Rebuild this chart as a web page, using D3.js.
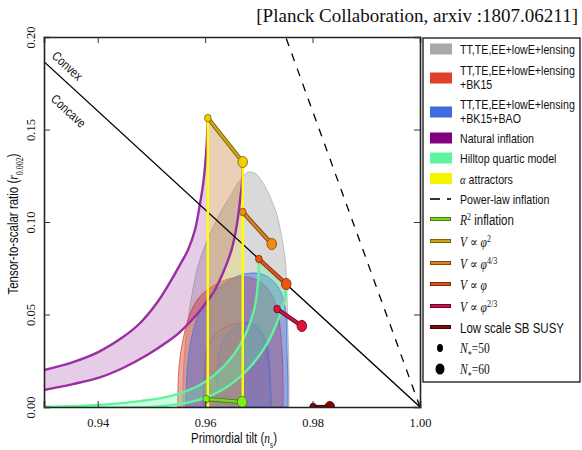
<!DOCTYPE html>
<html><head><meta charset="utf-8">
<script src="https://cdn.jsdelivr.net/npm/d3@7"></script>
<style>
body{margin:0;background:#fff;}
svg{display:block;}
</style></head><body>
<svg id="chart" width="582" height="450"></svg>
<script>
// ---- tick values ----
const nsTicks = [0.94, 0.96, 0.98, 1.00];
const rTicks = [0.00, 0.05, 0.10, 0.15, 0.20];

// ---- Planck constraints in the (n_s, r) plane ----
const planck95 = [[0.9559,0],[0.9559,0.0146],[0.9562,0.0308],[0.9568,0.0470],[0.9577,0.0632],[0.9590,0.0795],[0.9615,0.0973],[0.9631,0.1065],[0.9646,0.1135],[0.9665,0.1227],[0.9680,0.1270],[0.9695,0.1259],[0.9710,0.1200],[0.9721,0.1135],[0.9732,0.1054],[0.9739,0.0973],[0.9749,0.0795],[0.9752,0.0632],[0.9754,0.0416],[0.9756,0.0200],[0.9756,0]];
const bk15Outer = [[0.9549,0],[0.9551,0.0200],[0.9557,0.0335],[0.9568,0.0470],[0.9585,0.0578],[0.9609,0.0643],[0.9637,0.0686],[0.9665,0.0703],[0.9687,0.0697],[0.9706,0.0670],[0.9721,0.0622],[0.9732,0.0551],[0.9739,0.0443],[0.9743,0.0308],[0.9745,0.0146],[0.9745,0]];
const bk15Inner = [[0.9596,0],[0.9598,0.0146],[0.9603,0.0308],[0.9618,0.0389],[0.9643,0.0438],[0.9670,0.0454],[0.9693,0.0432],[0.9710,0.0362],[0.9717,0.0254],[0.9721,0.0119],[0.9723,0]];
const baoOuter = [[0.9564,0],[0.9566,0.0173],[0.9572,0.0335],[0.9585,0.0481],[0.9605,0.0589],[0.9631,0.0659],[0.9661,0.0708],[0.9687,0.0724],[0.9710,0.0714],[0.9730,0.0670],[0.9743,0.0605],[0.9751,0.0497],[0.9752,0.0335],[0.9754,0.0146],[0.9754,0]];
const baoInner = [[0.9620,0],[0.9622,0.0146],[0.9626,0.0281],[0.9637,0.0373],[0.9656,0.0432],[0.9674,0.0459],[0.9693,0.0443],[0.9708,0.0389],[0.9717,0.0308],[0.9721,0.0173],[0.9723,0]];

// ---- model predictions ----
const naturalN50 = [[0.9300,0.0200],[0.9354,0.0243],[0.9401,0.0297],[0.9447,0.0378],[0.9479,0.0454],[0.9510,0.0562],[0.9535,0.0676],[0.9553,0.0768],[0.9568,0.0849],[0.9581,0.0957],[0.9590,0.1092],[0.9596,0.1200],[0.9600,0.1308],[0.9603,0.1427],[0.9605,0.1562]];
const naturalN60 = [[0.9300,0.0092],[0.9354,0.0124],[0.9401,0.0157],[0.9447,0.0211],[0.9492,0.0281],[0.9529,0.0351],[0.9553,0.0405],[0.9590,0.0519],[0.9618,0.0632],[0.9637,0.0751],[0.9650,0.0859],[0.9659,0.0984],[0.9665,0.1119],[0.9669,0.1227],[0.9670,0.1324]];
const hilltopN50 = [[0.9300,0],[0.9404,0.0011],[0.9479,0.0032],[0.9535,0.0059],[0.9590,0.0119],[0.9637,0.0227],[0.9670,0.0362],[0.9691,0.0524],[0.9698,0.0659],[0.9700,0.0800]];
const hilltopN60 = [[0.9300,0],[0.9497,0],[0.9553,0.0016],[0.9600,0.0049],[0.9646,0.0119],[0.9687,0.0227],[0.9717,0.0351],[0.9737,0.0481],[0.9749,0.0589],[0.9751,0.0665]];

// single-field models: N*=50 and N*=60 predictions
const modelKeys = ["R2", "phi2", "phi43", "phi1", "phi23", "susy"];
const modelNs50 = [0.9602, 0.9605, 0.9670, 0.9700, 0.9734, 0.9801];
const modelR50  = [0.0043, 0.1562, 0.1054, 0.0800, 0.0530, 0.0000];
const modelNs60 = [0.9669, 0.9670, 0.9724, 0.9751, 0.9780, 0.9832];
const modelR60  = [0.0027, 0.1324, 0.0881, 0.0665, 0.0438, 0.0000];

// straight reference lines
const dividerNs = [0.93, 1.00], dividerR = [0.1867, 0.0];
const powerLawNs = [1.00, 0.975], powerLawR = [0.0, 0.20];

// ---- drawing ----
const svg = d3.select("#chart");
const x = d3.scaleLinear().domain([0.93, 1.00]).range([44, 420]);
const y = d3.scaleLinear().domain([0, 0.20]).range([407, 37]);

const SANS = "'Liberation Sans',Arial,sans-serif";
const SERIF = "'Liberation Serif','DejaVu Serif',serif";
const NARROW = 0.82;   // horizontal squeeze for the condensed sans labels

svg.append("defs").append("clipPath").attr("id", "plotClip")
  .append("rect").attr("x", 44).attr("y", 37).attr("width", 376).attr("height", 370);

const plot = svg.append("g").attr("clip-path", "url(#plotClip)");
const line = d3.line().x(d => x(d[0])).y(d => y(d[1]));
const smooth = d3.line().x(d => x(d[0])).y(d => y(d[1])).curve(d3.curveCatmullRom.alpha(0.5));

// data contours
function contour(pts, fill, stroke, op) {
  plot.append("path").attr("d", smooth(pts) + "Z")
    .attr("fill", fill).attr("fill-opacity", op)
    .attr("stroke", stroke).attr("stroke-width", 0.9);
}
contour(planck95, "#c4c4c4", "#b8b8b8", 0.65);
contour(bk15Outer, "#e0402a", "#d8574a", 0.45);
contour(bk15Inner, "#e0402a", "#d8574a", 0.15);
contour(baoOuter, "#4169e1", "#4a78e6", 0.45);
contour(baoInner, "#4169e1", "#4a78e6", 0.15);

// natural inflation band
plot.append("path").attr("d", smooth(naturalN50) + "L" + smooth(naturalN60.slice().reverse()).slice(1) + "Z")
  .attr("fill", "#800080").attr("fill-opacity", 0.2).attr("stroke", "none");

// alpha-attractor band between the N*=50 and N*=60 verticals
const iPhi2 = modelKeys.indexOf("phi2");
const alphaBand = [[modelNs50[iPhi2], modelR50[iPhi2]], [modelNs60[iPhi2], modelR60[iPhi2]], [modelNs60[iPhi2], 0], [modelNs50[iPhi2], 0]];
plot.append("path").attr("d", line(alphaBand) + "Z")
  .attr("fill", "#ffe000").attr("fill-opacity", 0.2);

// hilltop band
plot.append("path").attr("d", smooth(hilltopN50) + "L" + smooth(hilltopN60.slice().reverse()).slice(1) + "Z")
  .attr("fill", "#5ef5a0").attr("fill-opacity", 0.3);

// band edges
[naturalN50, naturalN60].forEach(c => plot.append("path").attr("d", smooth(c))
  .attr("fill", "none").attr("stroke", "#9a2ea3").attr("stroke-width", 2.4));
[hilltopN50, hilltopN60].forEach(c => plot.append("path").attr("d", smooth(c))
  .attr("fill", "none").attr("stroke", "#5ef59e").attr("stroke-width", 2.4));

// convex / concave divider
plot.append("path").attr("d", line(d3.zip(dividerNs, dividerR)))
  .attr("stroke", "#000").attr("stroke-width", 1.3).attr("fill", "none");
// power-law inflation
plot.append("path").attr("d", line(d3.zip(powerLawNs, powerLawR)))
  .attr("stroke", "#000").attr("stroke-width", 1.3).attr("fill", "none")
  .attr("stroke-dasharray", "8,8");

// alpha-attractor verticals
[0, 1].forEach(k => {
  const ns = k ? modelNs60[iPhi2] : modelNs50[iPhi2];
  const rt = k ? modelR60[iPhi2] : modelR50[iPhi2];
  plot.append("line").attr("x1", x(ns)).attr("x2", x(ns)).attr("y1", y(rt)).attr("y2", y(0))
    .attr("stroke", "#ffff00").attr("stroke-width", 2.4);
});

// model segments and markers
const segColor  = {R2: "#7ed321", phi2: "#c9a417", phi43: "#d9822b", phi1: "#d9541e", phi23: "#c8174a", susy: "#7a0c0c"};
const segEdge   = {R2: "#3d7a10", phi2: "#7a6200", phi43: "#7a4300", phi1: "#7a2a00", phi23: "#6e0020", susy: "#3d0000"};
const dotColor  = {R2: "#7ef01a", phi2: "#f5cc00", phi43: "#f28c0f", phi1: "#f0540c", phi23: "#dc143c", susy: "#8b0000"};

modelKeys.forEach((k, i) => {
  const p50 = [modelNs50[i], modelR50[i]], p60 = [modelNs60[i], modelR60[i]];
  plot.append("path").attr("d", line([p50, p60])).attr("stroke", segEdge[k]).attr("stroke-width", 4.2).attr("fill", "none");
  plot.append("path").attr("d", line([p50, p60])).attr("stroke", segColor[k]).attr("stroke-width", 2.4).attr("fill", "none");
  plot.append("ellipse").attr("cx", x(p50[0])).attr("cy", y(p50[1])).attr("rx", 3.3).attr("ry", 3.8)
    .attr("fill", dotColor[k]).attr("stroke", segEdge[k]).attr("stroke-width", 0.8);
  plot.append("ellipse").attr("cx", x(p60[0])).attr("cy", y(p60[1])).attr("rx", 4.8).attr("ry", 5.6)
    .attr("fill", dotColor[k]).attr("stroke", segEdge[k]).attr("stroke-width", 0.8);
});

// rich text helper: parts of [text, family, italic, shift]
function rich(sel, parts, size) {
  parts.forEach(([t, fam, it, sh]) => {
    const ts = sel.append("tspan").text(t).attr("font-family", fam === "serif" ? SERIF : SANS)
      .attr("font-size", sh ? size * 0.7 : size);
    if (it) ts.attr("font-style", "italic");
    if (sh) ts.attr("baseline-shift", sh);
  });
  return sel;
}
// text placed at (tx,ty), optionally rotated, squeezed horizontally
function label(parent, tx, ty, rot, parts, size, anchor) {
  const t = parent.append("text")
    .attr("transform", `translate(${tx},${ty}) rotate(${rot}) scale(${NARROW},1)`)
    .attr("text-anchor", anchor || "start").attr("fill", "#111");
  return rich(t, parts, size);
}

// region labels along the divider
const ang = Math.atan2(y(dividerR[1]) - y(dividerR[0]), x(dividerNs[1]) - x(dividerNs[0])) * 180 / Math.PI;
label(svg, 51, 57, ang, [["Convex", "sans"]], 13);
label(svg, 50, 100, ang, [["Concave", "sans"]], 13);

// ---- axes ----
const gx = svg.append("g").attr("transform", "translate(0,407)")
  .call(d3.axisBottom(x).tickValues(nsTicks).tickSize(-6).tickPadding(11).tickFormat(d3.format(".2f")));
svg.append("g").attr("transform", "translate(0,37)")
  .call(d3.axisTop(x).tickValues(nsTicks).tickSize(-6).tickFormat(""));
const gy = svg.append("g").attr("transform", "translate(44,0)")
  .call(d3.axisLeft(y).tickValues(rTicks).tickSize(-6).tickFormat(d3.format(".2f")));
svg.append("g").attr("transform", "translate(420,0)")
  .call(d3.axisRight(y).tickValues(rTicks).tickSize(-6).tickFormat(""));
svg.selectAll(".domain").attr("stroke", "#222").attr("stroke-width", 1.6);
svg.selectAll(".tick line").attr("stroke", "#333").attr("stroke-width", 1);
gx.selectAll("text").attr("font-family", SERIF).attr("font-size", 12.5).attr("fill", "#111");
gy.selectAll("text").attr("font-family", SERIF).attr("font-size", 12.5).attr("fill", "#111")
  .attr("x", null).attr("dy", null).attr("text-anchor", "middle")
  .attr("transform", "translate(-13,0) rotate(-90)").attr("y", 0).attr("dominant-baseline", "central");

// axis titles
label(svg, 234, 443, 0, [["Primordial tilt (", "sans"], ["n", "serif", true], ["s", "serif", false, "sub"], [")", "sans"]], 14, "middle");
label(svg, 18, 224, -90, [["Tensor-to-scalar ratio (", "sans"], ["r", "serif", true], ["0.002", "serif", false, "sub"], [")", "sans"]], 14, "middle");

// header
svg.append("text").attr("x", 578).attr("y", 22).attr("text-anchor", "end")
  .attr("font-family", SERIF).attr("font-size", 19).attr("fill", "#111")
  .text("[Planck Collaboration, arxiv :1807.06211]");

// ---- legend ----
const LGS = 13;
const lg = svg.append("g");
lg.append("rect").attr("x", 423).attr("y", 38).attr("width", 157).attr("height", 344)
  .attr("fill", "#fff").attr("stroke", "#111").attr("stroke-width", 1.3);

const patchItems = [
  {c: "#a9a9a9", y: 49, lines: [[["TT,TE,EE+lowE+lensing", "sans"]]]},
  {c: "#e0402a", y: 78, lines: [[["TT,TE,EE+lowE+lensing", "sans"]], [["+BK15", "sans"]]]},
  {c: "#4169e1", y: 112, lines: [[["TT,TE,EE+lowE+lensing", "sans"]], [["+BK15+BAO", "sans"]]]},
  {c: "#800080", y: 138, lines: [[["Natural inflation", "sans"]]]},
  {c: "#5ef5a0", y: 158, lines: [[["Hilltop quartic model", "sans"]]]},
  {c: "#f5f500", y: 178.5, lines: [[["α", "serif", true], [" attractors", "sans"]]]}
];
patchItems.forEach(it => {
  lg.append("rect").attr("x", 430).attr("y", it.y - 5.5).attr("width", 22).attr("height", 11).attr("fill", it.c);
  const base = it.lines.length > 1 ? it.y - 3 : it.y + 5;
  it.lines.forEach((ln, j) => label(lg, 460, base + j * 14, 0, ln, LGS));
});

// power-law entry
lg.append("line").attr("x1", 430).attr("x2", 440).attr("y1", 199).attr("y2", 199).attr("stroke", "#000").attr("stroke-width", 1.6);
lg.append("line").attr("x1", 447).attr("x2", 451).attr("y1", 199).attr("y2", 199).attr("stroke", "#000").attr("stroke-width", 1.6);
label(lg, 460, 204, 0, [["Power-law inflation", "sans"]], LGS);

const lineItems = [
  {k: "R2", y: 219, parts: [["R", "serif", true], ["2", "serif", false, "super"], [" inflation", "sans"]]},
  {k: "phi2", y: 241, parts: [["V", "serif", true], [" ∝ ", "serif"], ["φ", "serif", true], ["2", "serif", false, "super"]]},
  {k: "phi43", y: 263, parts: [["V", "serif", true], [" ∝ ", "serif"], ["φ", "serif", true], ["4/3", "serif", false, "super"]]},
  {k: "phi1", y: 284, parts: [["V", "serif", true], [" ∝ ", "serif"], ["φ", "serif", true]]},
  {k: "phi23", y: 306, parts: [["V", "serif", true], [" ∝ ", "serif"], ["φ", "serif", true], ["2/3", "serif", false, "super"]]},
  {k: "susy", y: 327, parts: [["Low scale SB SUSY", "sans"]]}
];
lineItems.forEach(it => {
  lg.append("line").attr("x1", 430).attr("x2", 451).attr("y1", it.y).attr("y2", it.y).attr("stroke", segEdge[it.k]).attr("stroke-width", 4);
  lg.append("line").attr("x1", 431).attr("x2", 450).attr("y1", it.y).attr("y2", it.y).attr("stroke", segColor[it.k]).attr("stroke-width", 2.2);
  label(lg, 460, it.y + 6, 0, it.parts, 14);
});

[[348, 3, 4, "50"], [369, 4.5, 5.5, "60"]].forEach(([yy, rx, ry, n]) => {
  lg.append("ellipse").attr("cx", 440).attr("cy", yy).attr("rx", rx).attr("ry", ry).attr("fill", "#000");
  label(lg, 460, yy + 5, 0, [["N", "serif", true], ["*", "serif", false, "sub"], ["=" + n, "serif"]], 14);
});
</script>
</body></html>
